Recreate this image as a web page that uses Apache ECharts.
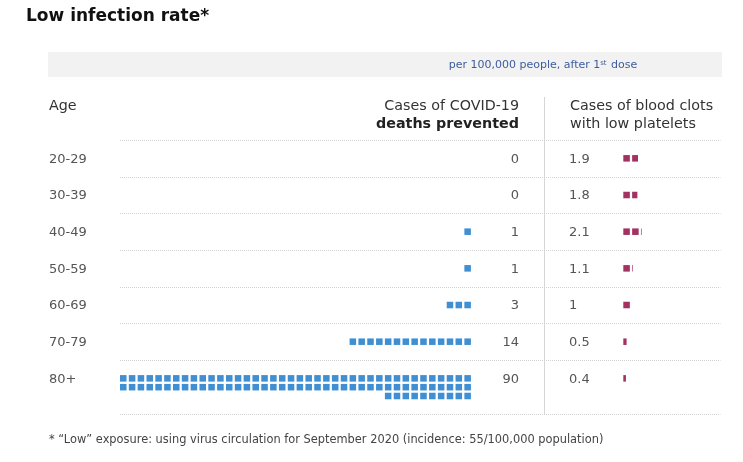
<!DOCTYPE html>
<html lang="en">
<head>
    <meta charset="UTF-8">
    <title>Low infection rate</title>
</head>
<body style="margin:0">
<div id="main" style="height: 462px;width: 743px"></div>
</body>
<script src="https://cdn.jsdelivr.net/npm/echarts@6/dist/echarts.min.js"></script>
<script>
    // data
    var ageGroups = ['20-29', '30-39', '40-49', '50-59', '60-69', '70-79', '80+'];
    var deathsPrevented = [0, 0, 1, 1, 3, 14, 90];
    var bloodClotCases = [1.9, 1.8, 2.1, 1.1, 1, 0.5, 0.4];
    var squaresPerLine = 40;

    var BLUE = '#3f8fd2';
    var PLUM = '#a13262';
    var FONT = '"DejaVu Sans", Verdana, sans-serif';
    var ROW_PX = 36.67;   // height of one table row
    var PITCH_PX = 8.83;  // distance between two squares
    var SLOTS = 68;       // squares across the table width
    var CLOT_SLOT = 57;   // first slot of the blood clot squares

    // row spans in row units, extra lines of squares make a row taller
    var rowTop = [];
    var rowSpan = [];
    var yMax = 0;
    ageGroups.forEach(function (a, i) {
        var lines = Math.max(1, Math.ceil(deathsPrevented[i] / squaresPerLine));
        rowTop.push(yMax);
        rowSpan.push(1 + (lines - 1) * PITCH_PX / ROW_PX);
        yMax += rowSpan[i];
    });

    var rows = ageGroups.map(function (a, i) {
        return [i, rowTop[i], rowSpan[i], deathsPrevented[i], bloodClotCases[i]];
    });

    function txt(text, x, y, opt) {
        opt = opt || {};
        return {
            type: 'text', x: x, y: y,
            style: {
                text: text, fill: opt.color || '#555', fontFamily: FONT,
                fontSize: opt.size || 13, fontWeight: opt.weight || 'normal',
                align: opt.align || 'left', verticalAlign: 'middle', rich: opt.rich
            }
        };
    }

    function renderRow(params, api) {
        var i = api.value(0);
        var top = api.value(1);
        var span = api.value(2);
        var deaths = api.value(3);
        var clots = api.value(4);
        var unit = api.size([1, 1]);
        var side = unit[0] * 0.74;
        var cs = params.coordSys;
        var yTop = api.coord([0, top])[1];
        var yMid = api.coord([0, top + 0.5])[1];
        var dotted = {stroke: '#d2d2d2', lineWidth: 1, lineDash: [1, 1]};
        var children = [];

        children.push({type: 'line', shape: {x1: cs.x, y1: Math.round(yTop) + 0.5, x2: cs.x + cs.width, y2: Math.round(yTop) + 0.5}, style: dotted});
        if (i === ageGroups.length - 1) {
            var yBot = Math.round(api.coord([0, top + span])[1]) + 0.5;
            children.push({type: 'line', shape: {x1: cs.x, y1: yBot, x2: cs.x + cs.width, y2: yBot}, style: dotted});
        }

        // deaths prevented, filled from the right
        for (var n = 0; n < deaths; n++) {
            var line = Math.floor(n / squaresPerLine);
            var col = n % squaresPerLine;
            var p = api.coord([squaresPerLine - 1 - col, top + 0.5]);
            children.push({
                type: 'rect',
                shape: {x: p[0], y: p[1] - side / 2 + line * unit[0], width: side, height: side},
                style: {fill: BLUE}
            });
        }

        // blood clots, last square cut to the fraction
        for (var k = 0; k < clots - 1e-9; k++) {
            var w = Math.min(1, clots - k);
            var q = api.coord([CLOT_SLOT + k, top + 0.5]);
            children.push({
                type: 'rect',
                shape: {x: q[0], y: q[1] - side / 2, width: side * w, height: side},
                style: {fill: PLUM}
            });
        }

        children.push(txt(ageGroups[i], 49, yMid + 1));
        children.push(txt(String(deaths), 519, yMid + 1, {align: 'right'}));
        children.push(txt(String(clots), 569, yMid + 1));

        return {type: 'group', children: children};
    }

    var myChart = echarts.init(document.getElementById('main'));
    var option = {
        backgroundColor: '#fff',
        animation: false,
        grid: {left: 120, top: 140, width: SLOTS * PITCH_PX, height: yMax * ROW_PX},
        xAxis: {type: 'value', min: 0, max: SLOTS, show: false},
        yAxis: {type: 'value', min: 0, max: yMax, inverse: true, show: false},
        graphic: [
            txt('Low infection rate*', 26, 17, {size: 17, weight: 'bold', color: '#111'}),
            {type: 'rect', shape: {x: 48, y: 52, width: 674, height: 25}, style: {fill: '#f2f2f2'}},
            txt('per 100,000 people, after 1{sup|st} dose', 543, 65, {
                size: 11, color: '#3d5c9e', align: 'center',
                rich: {sup: {fontSize: 7, fill: '#3d5c9e', fontFamily: FONT, verticalAlign: 'top', padding: [0, 1, 4, 0]}}
            }),
            txt('Age', 49, 106, {size: 14.3, color: '#333'}),
            txt('Cases of COVID-19', 519, 106, {size: 14.3, color: '#333', align: 'right'}),
            txt('deaths prevented', 519, 124, {size: 14.3, color: '#222', align: 'right', weight: 'bold'}),
            txt('Cases of blood clots', 570, 106, {size: 14.3, color: '#333'}),
            txt('with low platelets', 570, 124, {size: 14.3, color: '#333'}),
            {type: 'line', shape: {x1: 544.5, y1: 97, x2: 544.5, y2: 415}, style: {stroke: '#d6d6d6', lineWidth: 1}},
            txt('* \u201cLow\u201d exposure: using virus circulation for September 2020 (incidence: 55/100,000 population)', 49, 440, {size: 11.4, color: '#444'})
        ],
        series: [{
            type: 'custom',
            renderItem: renderRow,
            clip: false,
            data: rows
        }]
    };

    myChart.setOption(option);
</script>
</html>
